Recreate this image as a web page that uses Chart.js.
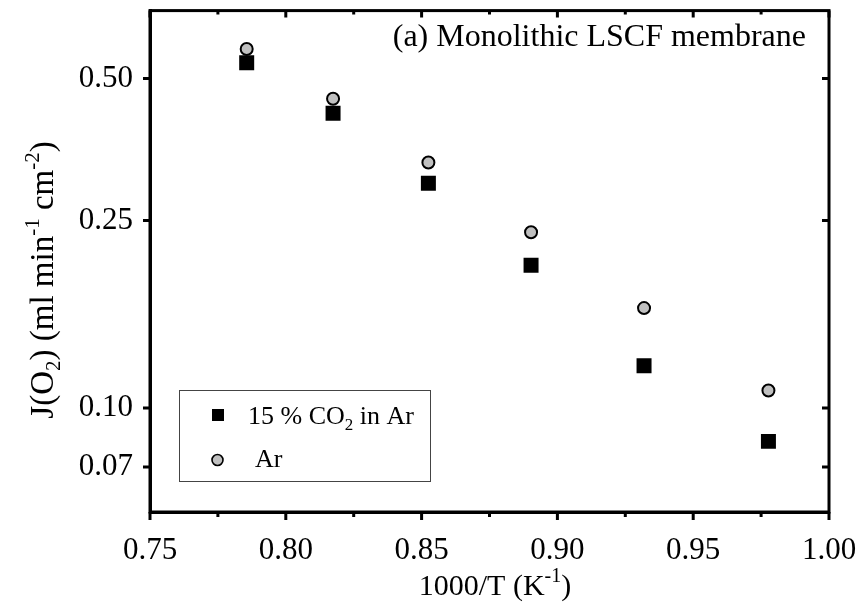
<!DOCTYPE html>
<html>
<head>
<meta charset="utf-8">
<script src="https://cdn.jsdelivr.net/npm/chart.js@4.4.1/dist/chart.umd.min.js"></script>
<style>
  body { margin: 0; background: #fff; }
  canvas { display: block; }
</style>
</head>
<body>
<canvas id="fluxChart" width="859" height="605"></canvas>
<script>
// datos
const xValues = [0.7856, 0.8174, 0.8525, 0.8903, 0.9319, 0.9777];
const co2Values = [0.540, 0.422, 0.300, 0.201, 0.123, 0.085];
const arValues = [0.578, 0.453, 0.332, 0.236, 0.163, 0.109];

const xTickValues = [0.75, 0.80, 0.85, 0.90, 0.95, 1.00];
const xTickLabels = ["0.75", "0.80", "0.85", "0.90", "0.95", "1.00"];
const xMinorTicks = [0.775, 0.825, 0.875, 0.925, 0.975];
const yTickValues = [0.075, 0.10, 0.25, 0.50];
const yTickLabels = ["0.07", "0.10", "0.25", "0.50"];

const serif = "'Liberation Serif', 'Times New Roman', serif";

// texto con subindices / superindices
function drawRich(ctx, parts, x, y, size, align) {
  const fontFor = p => (p.sub || p.sup ? Math.round(size * 0.65) : size) + "px " + serif;
  let total = 0;
  parts.forEach(p => { ctx.font = fontFor(p); total += ctx.measureText(p.t).width; });
  let cx = align === "center" ? x - total / 2 : x;
  ctx.textAlign = "left";
  ctx.textBaseline = "alphabetic";
  parts.forEach(p => {
    ctx.font = fontFor(p);
    let dy = 0;
    if (p.sub) dy = size * 0.22;
    if (p.sup) dy = -size * 0.42;
    ctx.fillText(p.t, cx, y + dy);
    cx += ctx.measureText(p.t).width;
  });
}

const framePlugin = {
  id: "frame",
  afterDraw(chart) {
    const ctx = chart.ctx;
    const a = chart.chartArea;
    const xs = chart.scales.x;
    const ys = chart.scales.y;
    ctx.save();
    ctx.strokeStyle = "#000";
    ctx.lineWidth = 3;
    ctx.strokeRect(a.left, a.top, a.right - a.left, a.bottom - a.top);

    ctx.beginPath();
    xTickValues.forEach(v => {
      const px = xs.getPixelForValue(v);
      ctx.moveTo(px, a.bottom); ctx.lineTo(px, a.bottom + 8);
      ctx.moveTo(px, a.top); ctx.lineTo(px, a.top + 7);
    });
    xMinorTicks.forEach(v => {
      const px = xs.getPixelForValue(v);
      ctx.moveTo(px, a.bottom); ctx.lineTo(px, a.bottom + 5);
      ctx.moveTo(px, a.top); ctx.lineTo(px, a.top + 4);
    });
    yTickValues.forEach(v => {
      const py = ys.getPixelForValue(v);
      ctx.moveTo(a.left - 7, py); ctx.lineTo(a.left, py);
      ctx.moveTo(a.right, py); ctx.lineTo(a.right - 7, py);
    });
    ctx.stroke();

    ctx.fillStyle = "#000";
    // titulo eje x
    drawRich(ctx, [{ t: "1000/T (K" }, { t: "-1", sup: true }, { t: ")" }],
      495, 595, 30, "center");

    // titulo eje y
    ctx.save();
    ctx.translate(53, 280);
    ctx.rotate(-Math.PI / 2);
    drawRich(ctx, [
      { t: "J(O" }, { t: "2", sub: true }, { t: ") (ml min" }, { t: "-1", sup: true },
      { t: " cm" }, { t: "-2", sup: true }, { t: ")" }
    ], 0, 0, 33, "center");
    ctx.restore();

    // anotacion
    ctx.font = "32px " + serif;
    ctx.textAlign = "right";
    ctx.textBaseline = "alphabetic";
    ctx.fillText("(a) Monolithic LSCF membrane", 806, 46);

    // leyenda
    ctx.lineWidth = 1;
    ctx.strokeStyle = "#444";
    ctx.strokeRect(179.5, 390.5, 251, 91);
    ctx.fillStyle = "#000";
    ctx.fillRect(212, 409, 12, 12);
    ctx.beginPath();
    ctx.arc(217.5, 460, 5.5, 0, Math.PI * 2);
    ctx.fillStyle = "#c0c0c0";
    ctx.fill();
    ctx.lineWidth = 1.6;
    ctx.strokeStyle = "#000";
    ctx.stroke();
    ctx.fillStyle = "#000";
    drawRich(ctx, [{ t: "15 % CO" }, { t: "2", sub: true }, { t: " in Ar" }], 248, 424, 26, "left");
    drawRich(ctx, [{ t: "Ar" }], 255, 467, 26, "left");
    ctx.restore();
  }
};

const ctx = document.getElementById("fluxChart");

new Chart(ctx, {
  type: "scatter",
  data: {
    datasets: [
      {
        label: "Ar",
        data: xValues.map((x, i) => ({ x: x, y: arValues[i] })),
        pointStyle: "circle",
        pointRadius: 6,
        backgroundColor: "#c0c0c0",
        borderColor: "#000",
        borderWidth: 2
      },
      {
        label: "15 % CO2 in Ar",
        data: xValues.map((x, i) => ({ x: x, y: co2Values[i] })),
        pointStyle: "rect",
        pointRadius: 10.6,
        backgroundColor: "#000",
        borderColor: "#000",
        borderWidth: 0
      }
    ]
  },
  options: {
    responsive: false,
    animation: false,
    events: [],
    layout: { padding: { top: 10, right: 30, left: 0, bottom: 0 } },
    scales: {
      x: {
        type: "linear",
        min: 0.75,
        max: 1.0,
        afterBuildTicks: s => { s.ticks = xTickValues.map(v => ({ value: v })); },
        afterFit: s => {
          s.height = 93;
          s.paddingLeft = 0;
          s.paddingRight = 0;
        },
        grid: { display: false },
        border: { display: true, color: "#000", width: 3 },
        ticks: {
          padding: 12,
          color: "#000",
          font: { family: serif, size: 31 },
          callback: (v, i) => xTickLabels[i]
        }
      },
      y: {
        type: "logarithmic",
        min: 0.0602,
        max: 0.697,
        afterBuildTicks: s => { s.ticks = yTickValues.map(v => ({ value: v })); },
        afterFit: s => {
          s.width = 150;
          s.paddingTop = 0;
          s.paddingBottom = 0;
        },
        grid: { display: false },
        border: { display: true, color: "#000", width: 3 },
        ticks: {
          padding: 9,
          color: "#000",
          font: { family: serif, size: 31 },
          callback: (v, i) => yTickLabels[i]
        }
      }
    },
    plugins: {
      legend: { display: false },
      tooltip: { enabled: false }
    }
  },
  plugins: [framePlugin]
});
</script>
</body>
</html>
